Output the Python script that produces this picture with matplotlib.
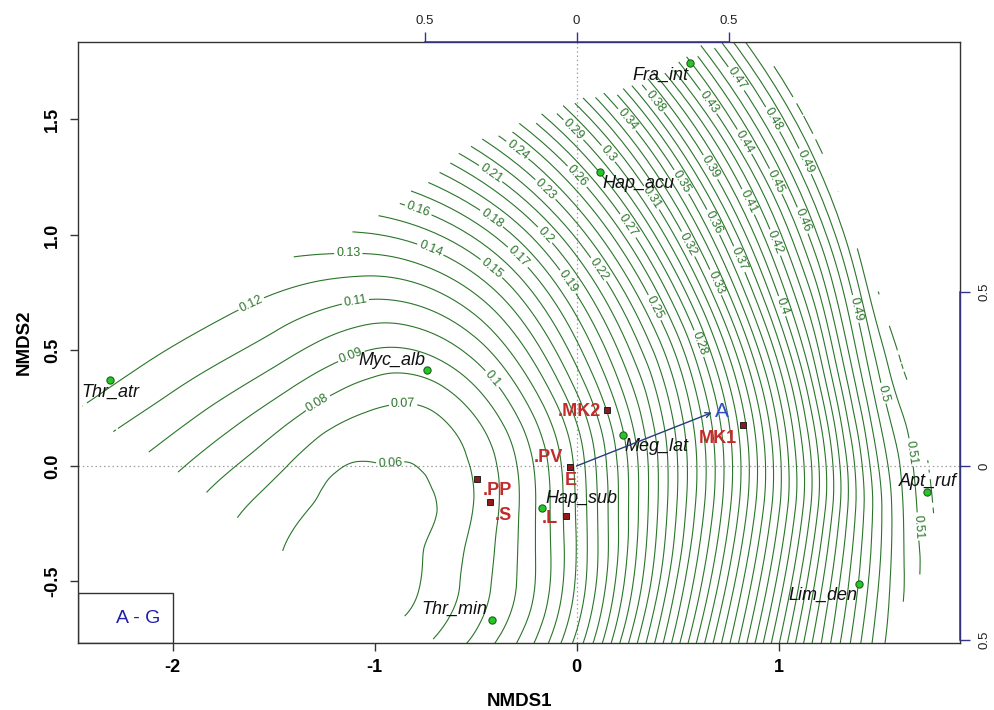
import numpy as np
import matplotlib
matplotlib.use("Agg")
import matplotlib.pyplot as plt
import matplotlib.tri as mtri
from matplotlib.path import Path
from matplotlib.patches import Rectangle

plt.rcParams['font.family'] = ['Liberation Sans', 'DejaVu Sans']

# species scores
species = ['Thr_atr', 'Myc_alb', 'Fra_int', 'Hap_acu', 'Meg_lat',
           'Hap_sub', 'Apt_ruf', 'Lim_den', 'Thr_min']
sp_x = [-2.309, -0.739, 0.562, 0.116, 0.229, -0.169, 1.737, 1.397, -0.421]
sp_y = [0.372, 0.416, 1.743, 1.271, 0.134, -0.181, -0.114, -0.510, -0.665]

# site scores
sites = ['.MK2', 'MK1', '.PV', 'E', '.PP', '.S', '.L']
site_x = [0.150, 0.826, -0.032, -0.032, -0.494, -0.428, -0.052]
site_y = [0.242, 0.177, -0.003, -0.003, -0.056, -0.157, -0.215]

# fitted vector
vec_name = 'A'
vec_x = 0.669
vec_y = 0.231

# fitted surface on a polar grid round its low point
surf_center = (-1.05, -0.18)
surf_yscale = 1.144
surf_theta = [-90, -60, -30, 0, 15, 30, 60, 90, 120, 150, 180, 210, 240]
surf_r = [0.05, 0.2, 0.5, 0.8, 1.1, 1.4, 1.7, 2.0, 2.3, 2.6, 2.9, 3.2]
surf_z = [
    [0.055, 0.0545, 0.056, 0.062, 0.075, 0.095, 0.120, 0.150, 0.180, 0.210, 0.240, 0.270],
    [0.055, 0.0548, 0.0595, 0.075, 0.100, 0.130, 0.170, 0.210, 0.260, 0.305, 0.350, 0.390],
    [0.055, 0.0555, 0.067, 0.085, 0.120, 0.180, 0.250, 0.320, 0.390, 0.450, 0.495, 0.540],
    [0.055, 0.0555, 0.0675, 0.094, 0.140, 0.199, 0.264, 0.336, 0.415, 0.488, 0.530, 0.568],
    [0.055, 0.0563, 0.0668, 0.092, 0.1365, 0.193, 0.254, 0.326, 0.410, 0.493, 0.535, 0.575],
    [0.055, 0.057, 0.066, 0.090, 0.133, 0.187, 0.244, 0.316, 0.395, 0.468, 0.536, 0.580],
    [0.055, 0.059, 0.066, 0.088, 0.120, 0.160, 0.210, 0.265, 0.325, 0.392, 0.455, 0.515],
    [0.055, 0.059, 0.0717, 0.092, 0.116, 0.144, 0.178, 0.215, 0.255, 0.300, 0.350, 0.400],
    [0.055, 0.059, 0.0755, 0.098, 0.117, 0.133, 0.150, 0.167, 0.185, 0.200, 0.220, 0.240],
    [0.055, 0.059, 0.074, 0.092, 0.109, 0.123, 0.137, 0.150, 0.163, 0.176, 0.190, 0.200],
    [0.055, 0.0582, 0.067, 0.078, 0.090, 0.100, 0.110, 0.120, 0.130, 0.140, 0.150, 0.160],
    [0.055, 0.056, 0.0605, 0.068, 0.076, 0.084, 0.092, 0.100, 0.108, 0.116, 0.124, 0.132],
    [0.055, 0.0548, 0.056, 0.060, 0.066, 0.072, 0.078, 0.084, 0.090, 0.096, 0.100, 0.110],
]

# area covered by the surface
hull_x = [-2.45, -1.40, -1.10, -0.81, -0.54, -0.25, 0.00, 0.27, 0.56, 0.72, 0.91,
          1.05, 1.19, 1.32, 1.47, 1.61, 1.71, 1.765, 1.76, 1.60, 1.50, -0.55,
          -0.89, -1.46, -1.67, -1.98, -2.27]
hull_y = [0.29, 0.91, 1.015, 1.185, 1.385, 1.48, 1.575, 1.645, 1.76, 1.86, 1.80,
          1.64, 1.41, 1.08, 0.80, 0.45, 0.12, -0.12, -0.36, -0.62, -0.85, -0.85,
          -0.625, -0.36, -0.225, -0.035, 0.142]

levels = np.round(np.arange(0.06, 0.525, 0.01), 2)

GREEN = '#2a752a'
BLUE_AX = '#33338f'
RED_TXT = '#c22b2b'

fig = plt.figure(figsize=(9.95, 7.10), dpi=100)
ax = fig.add_axes([0.0784, 0.0948, 0.8864, 0.8456])
ax.set_xlim(-2.468, 1.898)
ax.set_ylim(-0.765, 1.834)

# surface grid -> triangulation
th = np.radians(surf_theta)
R, TH = np.meshgrid(surf_r, th)
X = surf_center[0] + R * np.cos(TH)
Y = surf_center[1] + R * np.sin(TH) / surf_yscale
Z = np.array(surf_z)
nt, nr = Z.shape
idx = np.arange(nt * nr).reshape(nt, nr)
tris = []
for i in range(nt - 1):
    for j in range(nr - 1):
        a, b, c, d = idx[i, j], idx[i, j + 1], idx[i + 1, j + 1], idx[i + 1, j]
        tris.append([a, b, c])
        tris.append([a, c, d])
tri = mtri.Triangulation(X.ravel(), Y.ravel(), np.array(tris))
tri_f, z_f = mtri.UniformTriRefiner(tri).refine_field(Z.ravel(), subdiv=4)
hull = Path(np.column_stack([hull_x, hull_y]))
cen = np.column_stack([tri_f.x[tri_f.triangles].mean(axis=1),
                       tri_f.y[tri_f.triangles].mean(axis=1)])
tri_f.set_mask(~hull.contains_points(cen))

cs = ax.tricontour(tri_f, z_f, levels=levels, colors=GREEN, linewidths=0.8, zorder=2)

clab_pos = [(-0.923, -0.01), (-0.857, 0.225), (-1.295, 0.293), (-1.121, 0.488),
            (-0.403, 0.387), (-1.096, 0.719), (-1.616, 0.711), (-1.130, 0.909),
            (-0.733, 0.917), (-0.428, 0.848), (-0.79, 1.094), (-0.288, 0.906),
            (-0.43, 1.06), (-0.041, 0.798), (-0.156, 1.0), (-0.43, 1.26),
            (0.105, 0.848), (-0.156, 1.195), (-0.30, 1.36), (0.38, 0.683),
            (-0.007, 1.245), (0.248, 1.036), (0.587, 0.524), (-0.016, 1.455),
            (0.149, 1.346), (0.38, 1.166), (0.54, 0.955), (0.677, 0.79),
            (0.248, 1.498), (0.521, 1.231), (0.665, 1.05), (0.805, 0.895),
            (0.397, 1.584), (0.656, 1.29), (1.01, 0.69), (0.85, 1.144),
            (0.99, 0.97), (0.645, 1.57), (0.818, 1.397), (0.983, 1.231),
            (1.106, 1.058), (0.793, 1.678), (0.966, 1.498), (1.123, 1.315),
            (1.395, 0.683), (1.519, 0.315), (1.66, 0.06), (1.667, -0.263)]


def lab_fmt(v):
    return ('%.2f' % v).rstrip('0')


ax.clabel(cs, manual=clab_pos, inline=True, inline_spacing=2, fmt=lab_fmt,
          fontsize=9, colors=GREEN)

# dotted origin lines
ax.axhline(0, color='#a0a0a0', lw=0.9, ls=(0, (1.2, 2.2)), zorder=1)
ax.axvline(0, color='#a0a0a0', lw=0.9, ls=(0, (1.2, 2.2)), zorder=1)

# species
ax.plot(sp_x, sp_y, 'o', ms=5.2, mfc='#26c626', mec='#1f5f1f', mew=0.8, zorder=5)
sp_off = [(0, -8.5, 'center'), (-1, 7, 'right'), (-1, -8.5, 'right'),
          (1.5, -8, 'left'), (1.5, -8.5, 'left'), (2, 6.5, 'left'),
          (0, 7.5, 'center'), (-1, -8.5, 'right'), (-3, 7.5, 'right')]
for name, x, y, (dx, dy, ha) in zip(species, sp_x, sp_y, sp_off):
    ax.annotate(name, (x, y), xytext=(dx, dy), textcoords='offset points',
                ha=ha, va='center', fontsize=13, style='italic', color='#111111',
                zorder=6)

# sites
ax.plot(site_x, site_y, 's', ms=5, mfc='#8e1c1c', mec='#222222', mew=0.7, zorder=5)
site_off = [(-4, -1, 'right'), (-5, -9.5, 'right'), (-5, 6.5, 'right'),
            (0.5, -10, 'center'), (4, -8.5, 'left'), (3.5, -9.5, 'left'),
            (-6, -2, 'right')]
for name, x, y, (dx, dy, ha) in zip(sites, site_x, site_y, site_off):
    ax.annotate(name, (x, y), xytext=(dx, dy), textcoords='offset points',
                ha=ha, va='center', fontsize=13, fontweight='bold', color=RED_TXT,
                zorder=6)

# vector
ax.annotate('', xy=(vec_x, vec_y), xytext=(0, 0),
            arrowprops=dict(arrowstyle='->', color='#23407a', lw=1.0,
                            mutation_scale=9, shrinkA=0, shrinkB=0), zorder=6)
ax.annotate(vec_name, (vec_x, vec_y), xytext=(7, 1), textcoords='offset points',
            ha='center', va='center', fontsize=15, color='#2c4fc4', zorder=6)

# legend box
ax.add_patch(Rectangle((-2.468, -0.765), 0.468, 0.217, fill=False,
                       ec='#333333', lw=1.0, zorder=6))
ax.text(-2.169, -0.659, 'A - G', ha='center', va='center', fontsize=14,
        color='#1f1fa8', zorder=7)

# main axes
for s in ax.spines.values():
    s.set_color('#333333')
    s.set_linewidth(1.0)
ax.set_xticks([-2, -1, 0, 1])
ax.set_xticklabels(['-2', '-1', '0', '1'], fontweight='bold', fontsize=13)
ax.set_yticks([-0.5, 0.0, 0.5, 1.0, 1.5])
ax.set_yticklabels(['-0.5', '0.0', '0.5', '1.0', '1.5'], fontweight='bold',
                   fontsize=13, rotation=90, va='center')
ax.tick_params(axis='both', length=6, width=1, color='#333333', pad=6)

# scaled vector axes (top, right)
mul = 1.505
top = ax.secondary_xaxis('top', functions=(lambda v: v / mul, lambda v: v * mul))
top.set_xticks([-0.5, 0, 0.5])
top.set_xticklabels(['0.5', '0', '0.5'], fontsize=9.5)
top.tick_params(length=7, width=1, color=BLUE_AX, labelcolor='#222222', pad=4)
top.spines['top'].set_visible(False)
rgt = ax.secondary_yaxis('right', functions=(lambda v: v / mul, lambda v: v * mul))
rgt.set_yticks([-0.5, 0, 0.5])
rgt.set_yticklabels(['0.5', '0', '0.5'], fontsize=9.5, rotation=90, va='center')
rgt.tick_params(length=7, width=1, color=BLUE_AX, labelcolor='#222222', pad=6)
rgt.spines['right'].set_visible(False)
ax.plot([-0.5 * mul, 0.5 * mul], [1, 1], color=BLUE_AX, lw=1.1,
        transform=ax.get_xaxis_transform(), clip_on=False, zorder=8)
ax.plot([1, 1], [-0.5 * mul, 0.5 * mul], color=BLUE_AX, lw=1.1,
        transform=ax.get_yaxis_transform(), clip_on=False, zorder=8)

fig.text(519 / 995, 1 - 702 / 710, 'NMDS1', ha='center', va='center',
         fontsize=13.5, fontweight='bold')
fig.text(24 / 995, 1 - 342 / 710, 'NMDS2', ha='center', va='center',
         fontsize=13.5, fontweight='bold', rotation=90)

fig.savefig('out.png', dpi=100)
